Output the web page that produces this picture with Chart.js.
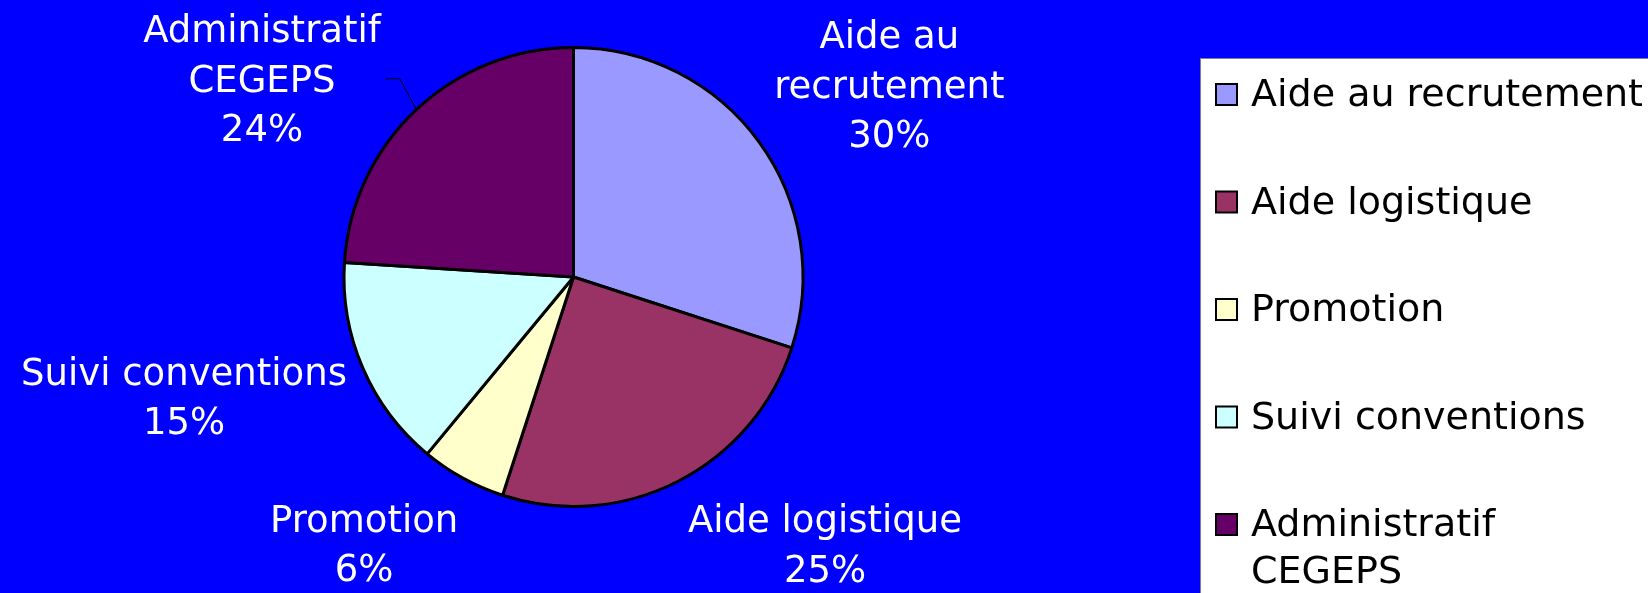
<!DOCTYPE html>
<html>
<head>
<meta charset="utf-8">
<script src="https://cdn.jsdelivr.net/npm/chart.js"></script>
<style>
  html, body { margin: 0; padding: 0; background: #0000ff; overflow: hidden; }
  canvas { display: block; }
</style>
</head>
<body>
<canvas id="graficoCircular" width="1648" height="593"></canvas>
<script>
// data
const categories = ["Aide au recrutement", "Aide logistique", "Promotion", "Suivi conventions", "Administratif CEGEPS"];
const percents = [30, 25, 6, 15, 24];
const colores = ["#9999ff", "#993366", "#ffffcc", "#ccffff", "#660066"];

// label nudges (px) from the outward point on each slice's middle angle
const labelNudge = [[28, 17], [90, -50], [-38, -45], [-63, -22], [-68, 61]];
const leaderLines = [false, false, false, false, true];

const FONT = '37px "DejaVu Sans"';
const LEGEND_FONT = '38px "DejaVu Sans"';

function wrapText(ctx, text, maxWidth) {
  const words = text.split(" ");
  const lines = [];
  let line = "";
  words.forEach(function(w) {
    const test = line ? line + " " + w : w;
    if (line && ctx.measureText(test).width > maxWidth) {
      lines.push(line);
      line = w;
    } else {
      line = test;
    }
  });
  if (line) lines.push(line);
  return lines;
}

const etiquetas = {
  id: "etiquetas",
  afterDatasetsDraw(chart) {
    const ctx = chart.ctx;
    const arcs = chart.getDatasetMeta(0).data;
    ctx.save();
    ctx.font = FONT;
    ctx.fillStyle = "#ffffff";
    ctx.textAlign = "center";
    ctx.textBaseline = "alphabetic";
    arcs.forEach(function(arc, i) {
      const mid = (arc.startAngle + arc.endAngle) / 2;
      const dx = Math.cos(mid), dy = Math.sin(mid);
      const cx = arc.x + dx * arc.outerRadius * 1.55 + labelNudge[i][0];
      const cy = arc.y + dy * arc.outerRadius * 1.55 + labelNudge[i][1];
      const lines = wrapText(ctx, categories[i], 350);
      lines.push(percents[i] + "%");
      const lh = 49.5;
      const first = cy + 13 - (lines.length - 1) * lh / 2;
      let widest = 0;
      lines.forEach(function(t, k) {
        ctx.fillText(t, cx, first + k * lh);
        widest = Math.max(widest, ctx.measureText(t).width);
      });
      if (leaderLines[i]) {
        const endX = cx + widest / 2 + 5;
        ctx.beginPath();
        ctx.strokeStyle = "#000000";
        ctx.lineWidth = 1;
        ctx.moveTo(arc.x + dx * arc.outerRadius, arc.y + dy * arc.outerRadius);
        ctx.lineTo(endX + 14, cy);
        ctx.lineTo(endX, cy);
        ctx.stroke();
      }
    });
    ctx.restore();
  }
};

const leyenda = {
  id: "leyenda",
  afterDraw(chart) {
    const ctx = chart.ctx;
    ctx.save();
    // white legend box running off the right and bottom edges
    ctx.fillStyle = "#ffffff";
    ctx.fillRect(1200.5, 58.5, 460, 560);
    ctx.strokeStyle = "#808080";
    ctx.lineWidth = 1;
    ctx.strokeRect(1200.5, 58.5, 460, 560);
    ctx.font = LEGEND_FONT;
    ctx.textAlign = "left";
    ctx.textBaseline = "alphabetic";
    categories.forEach(function(cat, i) {
      const base = 106 + i * 107.5;
      ctx.fillStyle = colores[i];
      ctx.fillRect(1216, base - 22, 21, 21);
      ctx.strokeStyle = "#000000";
      ctx.lineWidth = 2;
      ctx.strokeRect(1216, base - 22, 21, 21);
      ctx.fillStyle = "#000000";
      const lines = wrapText(ctx, cat, 400);
      lines.forEach(function(t, k) {
        ctx.fillText(t, 1251, base + k * 47);
      });
    });
    ctx.restore();
  }
};

var ctxCircular = document.getElementById("graficoCircular").getContext("2d");

const chart = new Chart(ctxCircular, {
  type: "pie",
  data: {
    labels: categories,
    datasets: [{
      data: percents,
      backgroundColor: colores,
      borderColor: "#000000",
      borderWidth: 3
    }]
  },
  options: {
    responsive: false,
    animation: false,
    radius: 229.5,
    layout: {
      padding: { left: 333.5, right: 834.5, top: 37, bottom: 76 }
    },
    plugins: {
      legend: { display: false },
      tooltip: { enabled: false }
    }
  },
  plugins: [etiquetas, leyenda]
});
</script>
</body>
</html>
